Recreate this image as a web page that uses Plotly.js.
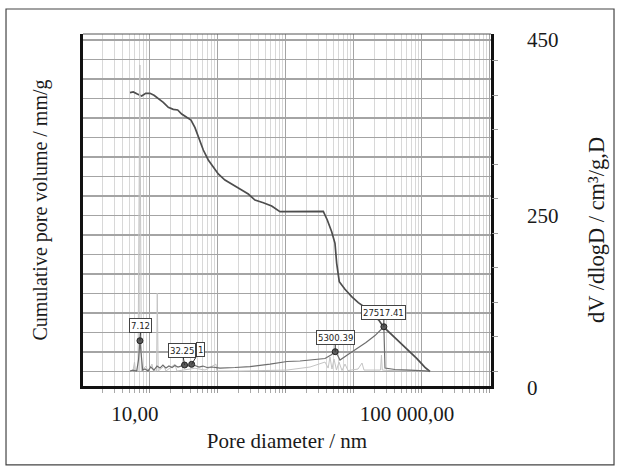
<!DOCTYPE html>
<html>
<head>
<meta charset="utf-8">
<script src="https://cdn.plot.ly/plotly-3.0.1.min.js"></script>
<style>html,body{margin:0;padding:0;background:#fff;}#chart{width:620px;height:467px;}</style>
</head>
<body>
<div id="chart"></div>
<script>
// Cumulative pore volume (mm/g) vs pore diameter (nm)
const cumD = [5.08, 5.68, 6.51, 7.55, 8.65, 10, 11.45, 13.25, 15.69, 18.58, 22.0, 25.55, 29.26, 34.65, 40.09, 45.9, 53.1, 60.8, 72.0, 85.3, 101, 126.7, 159, 210.7, 279, 350, 464, 616, 816, 1437, 3536, 4050, 4700, 5256, 5567, 6079, 7374, 9252, 11567, 14516, 19225, 23560, 26970, 47490, 83580, 110700, 131100];
const cumV = [714.9, 716.7, 711.5, 706.4, 713.3, 713.3, 708.2, 700.5, 690.3, 677.4, 672.3, 670.5, 660.3, 651.8, 644.9, 625.1, 593.6, 567.9, 542.3, 525.1, 506.4, 491.0, 480.0, 467.9, 455.1, 439.7, 432.8, 424.4, 409.7, 409.7, 410.8, 388.5, 358.5, 328.7, 277.4, 230.3, 210.8, 191.8, 176.4, 164.6, 144.9, 130.3, 114.9, 75.0, 33.8, 10.8, 0];

// dV/dlogD (smoothed) vs pore diameter
const difD = [5.08, 5.62, 6.37, 6.78, 7.12, 7.81, 8.44, 9.35, 10.3, 11.45, 12.7, 14.0, 15.5, 17.2, 19.0, 21.1, 23.3, 25.8, 28.6, 32.25, 36.2, 41.01, 45.9, 52.6, 60.1, 68.9, 81.6, 107, 177.8, 295.6, 582, 1035, 1607, 2494, 3748, 4590, 5300.39, 5820, 6225, 8170, 11070, 15010, 20370, 27517.41, 28580, 40090, 66650, 110700, 131100];
const difV = [0, 1.4, 0, 16, 43.9, 1.4, 2.9, 0, 5.8, 1.4, 7.2, 4.3, 8.7, 4.3, 7.2, 5.1, 8.0, 5.8, 7.2, 8.7, 7.2, 9.7, 8.0, 5.8, 7.2, 5.1, 5.8, 4.3, 5.1, 6.5, 10.1, 13.8, 14.5, 15.9, 18.1, 23.2, 28.0, 21.7, 15.9, 23.9, 32.6, 41.3, 51.4, 64.2, 4.3, 2.2, 1.4, 0.7, 0];

// raw incremental spikes (light trace)
const rawD = [5.08, 5.62, 5.92, 6.12, 6.67, 7.1, 7.47, 8.73, 9.35, 10.7, 11.25, 12.5, 12.8, 13.2, 16.07, 17.2, 23.3, 24.9, 45.9, 64.5, 93.4, 96.8, 210, 1035, 2254, 3748, 4170, 4436, 4746, 5080, 5530, 6015, 6667, 7380, 8170, 11460, 13120, 14040, 24550, 25360, 26060, 33810, 112800];
const rawV = [0, 0, 13, 0, 0, 443.5, 0, 7, 0, 10, 0, 0, 113, 0, 7, 0, 10, 0, 4, 1.4, 10, 0, 0, 1.4, 5.8, 13, 4.3, 20.3, 2.9, 17.4, 1.4, 13, 0.7, 10.1, 0.7, 2.9, 11.6, 1.4, 1.4, 23.2, 1.4, 0.7, 0];

// labelled peaks (the second 32-41 nm box is hidden behind the 32.25 box except its last digit)
const peakD = [7.12, 32.25, 41.01, 5300.39, 27517.41];
const peakV = [43.9, 8.7, 9.7, 28.0, 64.2];
const peakText = ['7.12', '32.25', '1', '5300.39', '27517.41'];

// axis tick labels
const xTickVals = [1, 10, 100, 1000, 10000, 100000, 1000000];
const xTickText = ['', '10,00', '', '', '', '100 000,00', ''];
const rightLabels = ['450', '250', '0'];

const serif = 'Liberation Serif, Times New Roman, serif';
const narrow = 'Liberation Sans Narrow, DejaVu Sans Condensed, Arial Narrow, sans-serif';

const traces = [
  {x: rawD, y: rawV, yaxis: 'y2', type: 'scatter', mode: 'lines',
   line: {color: '#c4c4c4', width: 1}, hoverinfo: 'skip'},
  {x: difD, y: difV, yaxis: 'y2', type: 'scatter', mode: 'lines',
   line: {color: '#6e6e6e', width: 1.2}, hoverinfo: 'skip'},
  {x: cumD, y: cumV, yaxis: 'y', type: 'scatter', mode: 'lines',
   line: {color: '#4e4e4e', width: 1.7}, hoverinfo: 'skip'},
  {x: peakD, y: peakV, yaxis: 'y2', type: 'scatter', mode: 'markers',
   marker: {size: 6, color: '#5a5a5a', line: {color: '#222', width: 1}}, hoverinfo: 'skip'}
];

const offs = [[1, -15], [-2.5, -15], [9, -15], [0, -14], [0, -14.5]];
const annotations = [];
[0, 1, 2, 3, 4].forEach(function (i) {
  annotations.push({
    x: Math.log10(peakD[i]), y: peakV[i], xref: 'x', yref: 'y2',
    text: peakText[i], showarrow: true, arrowhead: 0, arrowwidth: 1, arrowcolor: '#333',
    ax: offs[i][0], ay: offs[i][1], standoff: 0,
    font: {family: narrow, size: 9.5, color: '#222'},
    bgcolor: '#fff', bordercolor: '#444', borderwidth: 1, borderpad: 1
  });
});
const rightY = [0.983, 0.483, -0.006];
rightLabels.forEach(function (t, i) {
  annotations.push({x: 1.0833, y: rightY[i], xref: 'paper', yref: 'paper', text: t,
    showarrow: false, xanchor: 'left', yanchor: 'middle',
    font: {family: serif, size: 21, color: '#1a1a1a'}});
});
annotations.push({x: 1.2574, y: 0.443, xref: 'paper', yref: 'paper', text: 'dV /dlogD / cm³/g,D',
  showarrow: false, textangle: -90, xanchor: 'center', yanchor: 'middle',
  font: {family: serif, size: 22.5, color: '#1a1a1a'}});

const layout = {
  width: 620, height: 467,
  margin: {l: 83, r: 129, t: 34, b: 81},
  paper_bgcolor: '#fff', plot_bgcolor: '#fff',
  showlegend: false,
  xaxis: {
    type: 'log', range: [0.015, 6.015],
    tickmode: 'array', tickvals: xTickVals, ticktext: xTickText,
    showgrid: true, gridcolor: '#a4a4a4', gridwidth: 1,
    ticks: 'outside', ticklen: 4, tickcolor: '#999',
    showline: true, linecolor: '#111', linewidth: 3,
    zeroline: false,
    minor: {dtick: 'D1', showgrid: true, gridcolor: '#d8d8d8', ticks: 'outside', ticklen: 4, tickcolor: '#aaa'},
    tickfont: {family: serif, size: 21, color: '#1a1a1a'},
    ticklabelshift: -15, ticklabelstandoff: 3,
    title: {text: 'Pore diameter / nm', font: {family: serif, size: 21, color: '#1a1a1a'}, standoff: 9}
  },
  yaxis: {
    range: [-37.2, 865.4], tickmode: 'linear', tick0: 0, dtick: 50,
    showgrid: true, gridcolor: '#a4a4a4', gridwidth: 1.2,
    showticklabels: false, ticks: '',
    showline: true, linecolor: '#111', linewidth: 3, mirror: true,
    zeroline: false,
    title: {text: 'Cumulative pore volume / mm/g', font: {family: serif, size: 20, color: '#1a1a1a'}, standoff: 28}
  },
  yaxis2: {
    overlaying: 'y', side: 'right', range: [-21.7, 488.4],
    tickmode: 'linear', tick0: 0, dtick: 50,
    ticks: 'outside', ticklen: 6, tickcolor: '#999',
    showticklabels: false, showgrid: false, zeroline: false, showline: false
  },
  shapes: [
    {type: 'line', xref: 'paper', yref: 'paper', x0: 0, x1: 1, y0: 1, y1: 1,
     line: {color: '#555', width: 1}},
    {type: 'rect', xref: 'paper', yref: 'paper', x0: -0.1887, x1: 1.3015, y0: -0.224, y1: 1.071,
     line: {color: '#444', width: 1.2}}
  ],
  annotations: annotations
};

Plotly.newPlot('chart', traces, layout, {staticPlot: true, displayModeBar: false});
</script>
</body>
</html>
